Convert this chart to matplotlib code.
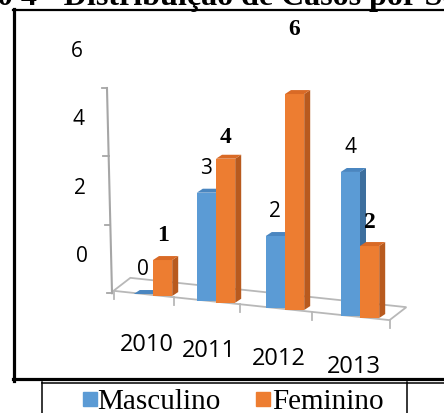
import matplotlib.pyplot as plt
from matplotlib.patches import Polygon, Rectangle
from matplotlib.lines import Line2D

years = ['2010', '2011', '2012', '2013']
masculino = [0, 3, 2, 4]
feminino = [1, 4, 6, 2]
y_ticks = [0, 2, 4, 6]

W, H = 444, 414
SANS = 'Open Sans'
SERIF = 'Liberation Serif'

BLUE = ('#5b9bd5', '#3d6f9e', '#4a86c0')      # front, side, top
ORANGE = ('#ed7d31', '#b85a1e', '#d96a26')

fig = plt.figure(figsize=(W / 100, H / 100), dpi=100)
ax = fig.add_axes([0, 0, 1, 1])
# 60 px per category unit, 36 px per value unit
ax.set_xlim(-153 / 60, (W - 153) / 60)
ax.set_ylim((296 - H) / 36, 296 / 36)
ax.axis('off')


def persp(i):
    # categories spread out a little towards the front right
    return i + 0.05 * i ** 2


def base(x):
    # floor slopes down to the right
    return -0.177 * x


def px(x, y):
    return (x / W, 1 - y / H)


bar_w = 0.32
dx, dy = 0.1, 0.11
cx = [persp(i) for i in range(len(years))]

# floor
ticks_x = [persp(i - 0.5) - 0.17 for i in range(len(years) + 1)]
fl, fr = ticks_x[0], ticks_x[-1]
depth = (0.28, 0.36)
floor = Polygon([(fl, base(fl)), (fr, base(fr)),
                 (fr + depth[0], base(fr) + depth[1]),
                 (fl + depth[0], base(fl) + depth[1])],
                closed=True, fc='white', ec='#b8b8b8', lw=1.3, zorder=1)
ax.add_patch(floor)
for t in ticks_x:
    ax.plot([t, t], [base(t), base(t) - 0.22], color='#b8b8b8', lw=1.3, zorder=1)

# value axis on the back wall
ax_x = lambda v: -0.683 - 0.014 * v
wall = lambda v: 0.05 + 0.95 * v
ax.plot([ax_x(0), ax_x(6)], [wall(0), wall(6)], color='#a6a6a6', lw=1.5, zorder=1)
for v in y_ticks:
    ax.plot([ax_x(v) - 0.09, ax_x(v)], [wall(v), wall(v)], color='#a6a6a6', lw=1.3, zorder=1)
    ax.text(ax_x(v) - 0.5, wall(v) + 1.05, str(v), fontsize=15, family=SANS,
            ha='center', va='center')

series = [(masculino, BLUE, -1), (feminino, ORANGE, 0)]
fem_lift = [0.72, 0.62, 1.83, 0.67]
for k, (vals, (front, side, top), shift) in enumerate(series):
    lefts = [c + shift * bar_w for c in cx]
    bottoms = [base(l + bar_w / 2) for l in lefts]
    ax.bar(lefts, vals, width=bar_w, bottom=bottoms, align='edge',
           color=front, lw=0, zorder=2 + k)
    for n, (l, b, v) in enumerate(zip(lefts, bottoms, vals)):
        r, t = l + bar_w, b + v
        ax.add_patch(Polygon([(r, b), (r + dx, b + dy), (r + dx, t + dy), (r, t)],
                             closed=True, fc=side, lw=0, zorder=2.1 + k))
        ax.add_patch(Polygon([(l, t), (l + dx, t + dy), (r + dx, t + dy), (r, t)],
                             closed=True, fc=top, lw=0, zorder=2.1 + k))
        if k == 0:
            ax.text(l + bar_w / 2, t + 0.7, str(v), fontsize=15, family=SANS,
                    ha='center', va='center', zorder=5)
        else:
            ax.text(l + bar_w / 2, t + fem_lift[n], str(v), fontsize=17,
                    family=SERIF, fontweight='bold', ha='center', va='center',
                    zorder=5)

for c, yr in zip(cx, years):
    ax.text(c - 0.11, base(c) - 1.35, yr, fontsize=17, family=SANS,
            ha='center', va='center')

# page frame and legend cell
def hline(y, x0, x1, lw):
    fig.add_artist(Line2D([x0 / W, x1 / W], [1 - y / H, 1 - y / H], color='black',
                          lw=lw, transform=fig.transFigure))


def vline(x, y0, y1, lw):
    fig.add_artist(Line2D([x / W, x / W], [1 - y0 / H, 1 - y1 / H], color='black',
                          lw=lw, transform=fig.transFigure))


vline(14, 10, 381.5, 2.3)
hline(11, 12.5, W, 1.6)
hline(380, 12.5, W, 2.3)
vline(373, 0, 10, 1.2)
hline(383.5, 41.5, W, 1.1)
vline(42, 383, H, 1.1)
vline(407, 383, H, 1.1)

fig.text(*px(-3, 5.5), '0 4 - Distribuição de Casos por Sexo', fontsize=23,
         family=SERIF, fontweight='bold', ha='left', va='baseline')

fig.add_artist(Rectangle(px(83, 407), 14 / W, 14 / H, color=BLUE[0],
                         transform=fig.transFigure))
fig.text(*px(97, 409), 'Masculino', fontsize=21, family=SERIF, va='baseline')
fig.add_artist(Rectangle(px(256, 407), 14 / W, 14 / H, color=ORANGE[0],
                         transform=fig.transFigure))
fig.text(*px(272, 409), 'Feminino', fontsize=21, family=SERIF, va='baseline')

fig.savefig('out.png', dpi=100)
